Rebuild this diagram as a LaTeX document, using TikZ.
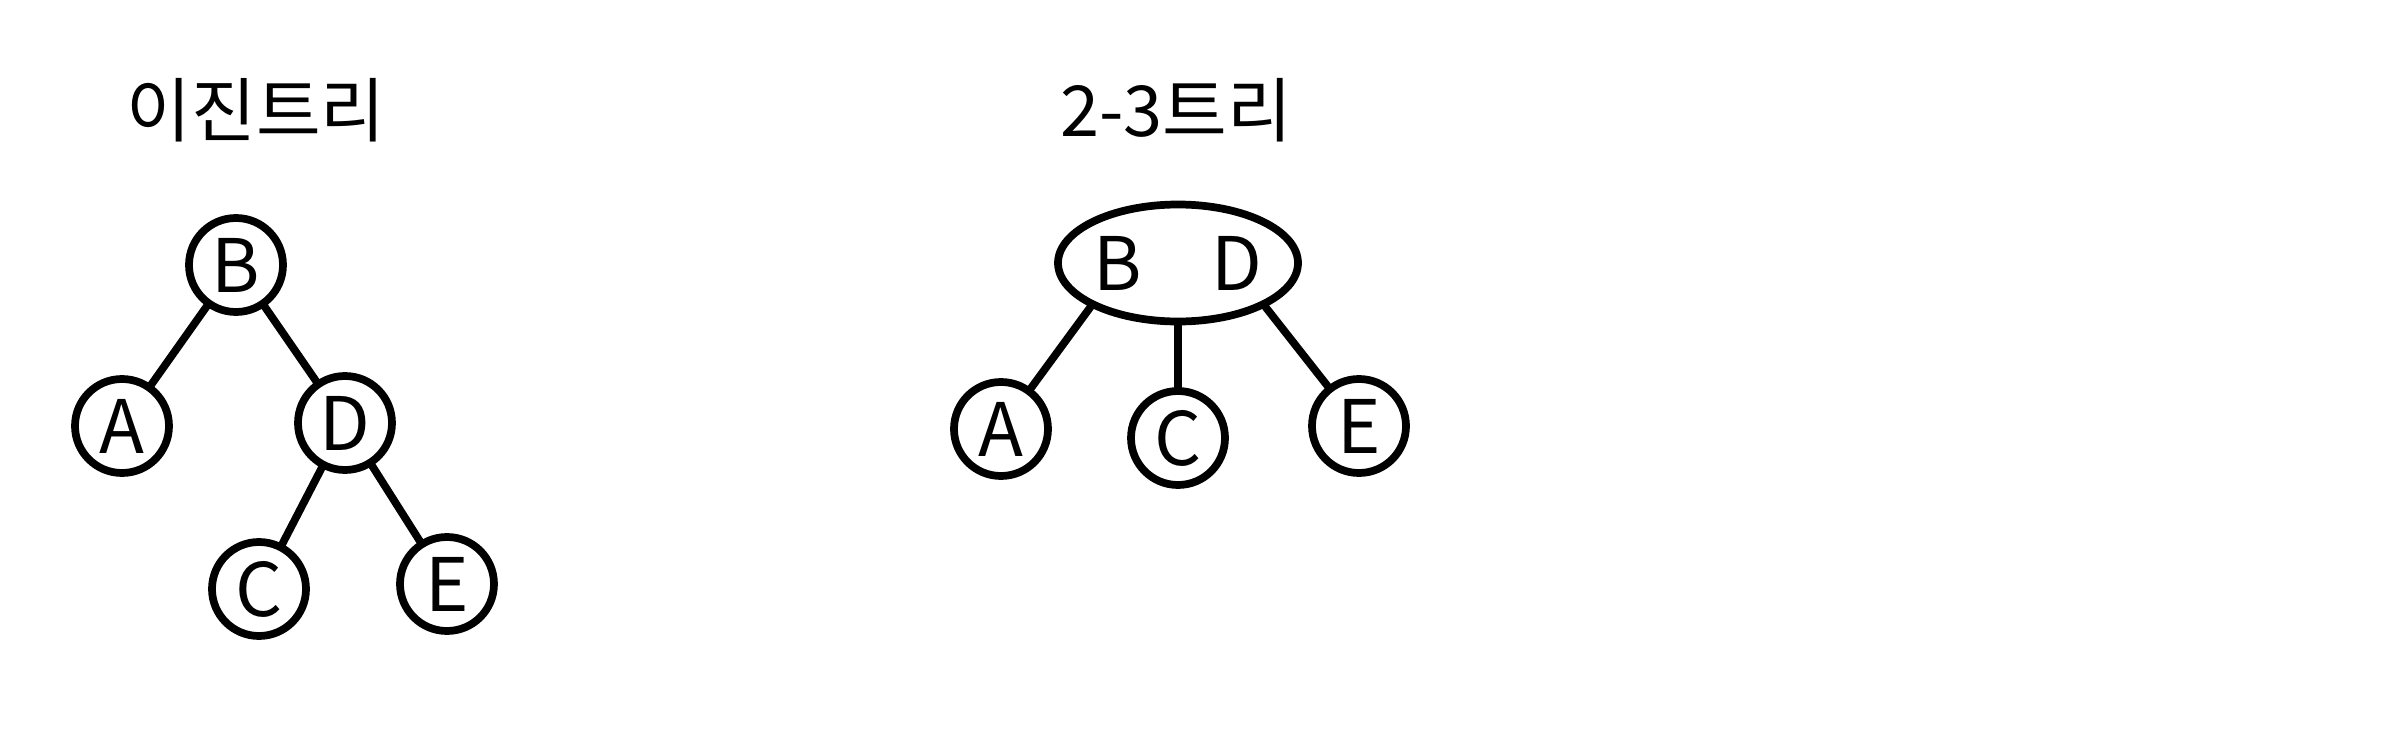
\documentclass[tikz,border=0pt]{standalone}
\usepackage{fontspec}
\setmainfont{Noto Sans CJK KR}
\usepackage{tikz}
\usetikzlibrary{shapes.geometric}

\begin{document}
\begin{tikzpicture}[
  line width=2.2pt,
  title/.style={font=\fontsize{20}{24}\selectfont},
  key/.style={circle, draw, minimum size=0.94cm, inner sep=0pt, font=\fontsize{21}{25}\selectfont},
  pair/.style={ellipse, draw, minimum width=2.4cm, minimum height=1.17cm, inner sep=0pt, font=\fontsize{21}{25}\selectfont},
  edge/.style={line cap=round}
]
\useasboundingbox (0,0) rectangle (23.86,-7.39);

\node[title] (bintitle) at (2.56,-1.10) {이진트리};
\node[title] (twothreetitle) at (11.76,-1.10) {2-3트리};

\node[key] (b) at (2.36,-2.65) {B};
\node[key] (a) at (1.22,-4.26) {A};
\node[key] (d) at (3.45,-4.23) {D};
\node[key] (c) at (2.59,-5.89) {C};
\node[key] (e) at (4.47,-5.84) {E};

\node[pair] (bd) at (11.78,-2.63) {B\hspace{0.7cm}D};
\node[key] (a2) at (10.01,-4.29) {A};
\node[key] (c2) at (11.78,-4.38) {C};
\node[key] (e2) at (13.59,-4.26) {E};

\draw[edge] (b) -- (a);
\draw[edge] (b) -- (d);
\draw[edge] (d) -- (c);
\draw[edge] (d) -- (e);
\draw[edge] (bd.south west) -- (a2);
\draw[edge] (bd.south) -- (c2);
\draw[edge] (bd.south east) -- (e2);
\end{tikzpicture}
\end{document}
